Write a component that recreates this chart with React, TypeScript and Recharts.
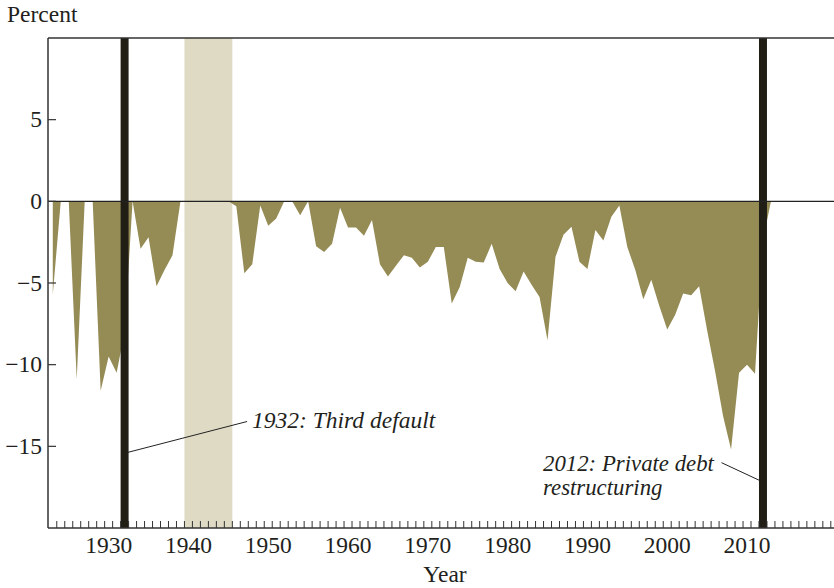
import React from 'react';
import {
  ComposedChart,
  Area,
  XAxis,
  YAxis,
  ReferenceArea,
  ReferenceLine,
} from 'recharts';

const FIRST_YEAR = 1923;
// Balance, percent of GDP, one value per year 1923-2013 (null = war years, no data)
const BALANCE: (number | null)[] = [
  -5.7, 0, 0, -10.9, 0, 0, -11.6, -9.5, -10.5, -8.0, // 1923-1932
  0, -2.9, -2.2, -5.2, -4.2, -3.3, 0, null, null, null, // 1933-1942
  null, null, 0, -0.3, -4.4, -3.85, -0.25, -1.5, -1.05, 0, // 1943-1952
  0, -0.85, 0, -2.75, -3.1, -2.6, -0.4, -1.6, -1.6, -2.1, // 1953-1962
  -1.15, -3.85, -4.6, -3.95, -3.3, -3.45, -4.05, -3.7, -2.8, -2.8, // 1963-1972
  -6.25, -5.25, -3.45, -3.7, -3.75, -2.6, -4.15, -5.0, -5.5, -4.3, // 1973-1982
  -5.1, -5.85, -8.5, -3.4, -2.05, -1.55, -3.7, -4.15, -1.75, -2.4, // 1983-1992
  -0.95, -0.25, -2.8, -4.2, -6.0, -4.8, -6.4, -7.85, -6.95, -5.65, // 1993-2002
  -5.75, -5.2, -7.9, -10.4, -13.15, -15.2, -10.5, -10.0, -10.55, -2.4, // 2003-2012
  0, // 2013
];
const YEARS = BALANCE.map((_, i) => FIRST_YEAR + i);

const EVENT_YEARS = [1932, 2012];
const WAR_BAND = [1939.5, 1945.5];
const Y_TICKS = [-15, -10, -5, 0, 5];
const X_LABELS = [1930, 1940, 1950, 1960, 1970, 1980, 1990, 2000, 2010];
// minor ticks sit between years
const X_MINOR = Array.from({ length: 98 }, (_, i) => 1923.5 + i);

const FONT = '"Liberation Serif", "Times New Roman", serif';
const INK = '#231f20';
const OLIVE = '#958b55';
const BAND = '#dfdac4';
const EVENT = '#211e16';

const data = YEARS.map((year, i) => ({ year, value: BALANCE[i] }));

// eslint-disable-next-line @typescript-eslint/no-explicit-any
const XTick = (props: any) => {
  const { x, y, payload } = props;
  const v = payload.value as number;
  if (Number.isInteger(v)) {
    return (
      <text x={x} y={y + 25} textAnchor="middle" fontFamily={FONT} fontSize={23.5} fill={INK}>
        {v}
      </text>
    );
  }
  return <line x1={x} x2={x} y1={y - 7} y2={y} stroke="#333" strokeWidth={1} />;
};

// eslint-disable-next-line @typescript-eslint/no-explicit-any
const YTick = (props: any) => {
  const { x, y, payload } = props;
  const v = payload.value as number;
  const label = v < 0 ? `\u2212${Math.abs(v)}` : `${v}`;
  return (
    <g>
      <line x1={x} x2={x + 8} y1={y} y2={y} stroke="#333" strokeWidth={1.2} />
      <text x={x - 6} y={y} dy={7.5} textAnchor="end" fontFamily={FONT} fontSize={23.5} fill={INK}>
        {label}
      </text>
    </g>
  );
};

export default function App() {
  return (
    <div style={{ position: 'relative', width: 834, height: 588, background: '#fff' }}>
      <style>{'body{margin:0}'}</style>
      <ComposedChart
        width={834}
        height={588}
        data={data}
        margin={{ top: 38, right: 0, bottom: 0, left: 0 }}
      >
        <XAxis
          dataKey="year"
          type="number"
          domain={[1922.4, 2020.9]}
          ticks={[...X_MINOR, ...X_LABELS].sort((a, b) => a - b)}
          interval={0}
          tickLine={false}
          tickSize={0}
          tickMargin={0}
          height={60}
          axisLine={{ stroke: '#333', strokeWidth: 1.5 }}
          tick={<XTick />}
          allowDataOverflow
        />
        <YAxis
          type="number"
          domain={[-20, 10]}
          ticks={Y_TICKS}
          interval={0}
          width={48}
          tickLine={false}
          tickSize={0}
          tickMargin={0}
          axisLine={{ stroke: '#333', strokeWidth: 1.5 }}
          tick={<YTick />}
          allowDataOverflow
        />
        <ReferenceArea
          x1={WAR_BAND[0]}
          x2={WAR_BAND[1]}
          y1={-20}
          y2={10}
          fill={BAND}
          fillOpacity={1}
          stroke="none"
        />
        <Area
          type="linear"
          dataKey="value"
          baseValue={0}
          fill={OLIVE}
          fillOpacity={1}
          stroke="none"
          connectNulls={false}
          dot={false}
          activeDot={false}
          isAnimationActive={false}
        />
        <ReferenceLine y={0} stroke="#222" strokeWidth={1.3} />
        <ReferenceLine y={10} stroke="#333" strokeWidth={1.5} />
        {EVENT_YEARS.map((yr) => (
          <ReferenceArea
            key={yr}
            x1={yr - 0.5}
            x2={yr + 0.5}
            y1={-20}
            y2={10}
            fill={EVENT}
            fillOpacity={1}
            stroke="none"
          />
        ))}
        <ReferenceLine
          segment={[{ x: 1932.4, y: -15.37 }, { x: 1947.35, y: -13.48 }]}
          stroke="#222"
          strokeWidth={1}
        />
        <ReferenceLine
          segment={[{ x: 2006.8, y: -16.0 }, { x: 2011.5, y: -17.07 }]}
          stroke="#222"
          strokeWidth={1}
        />
      </ComposedChart>
      <svg
        width={834}
        height={588}
        style={{ position: 'absolute', left: 0, top: 0, pointerEvents: 'none' }}
      >
        <g fontFamily={FONT} fontSize={23.5} fill={INK}>
          <text x={7} y={22}>Percent</text>
          <text x={445} y={582} textAnchor="middle">Year</text>
          <text x={252} y={428} fontStyle="italic">1932: Third default</text>
          <text x={543} y={471} fontStyle="italic" fontSize={22.8}>2012: Private debt</text>
          <text x={543} y={495} fontStyle="italic" fontSize={22.8}>restructuring</text>
        </g>
      </svg>
    </div>
  );
}
